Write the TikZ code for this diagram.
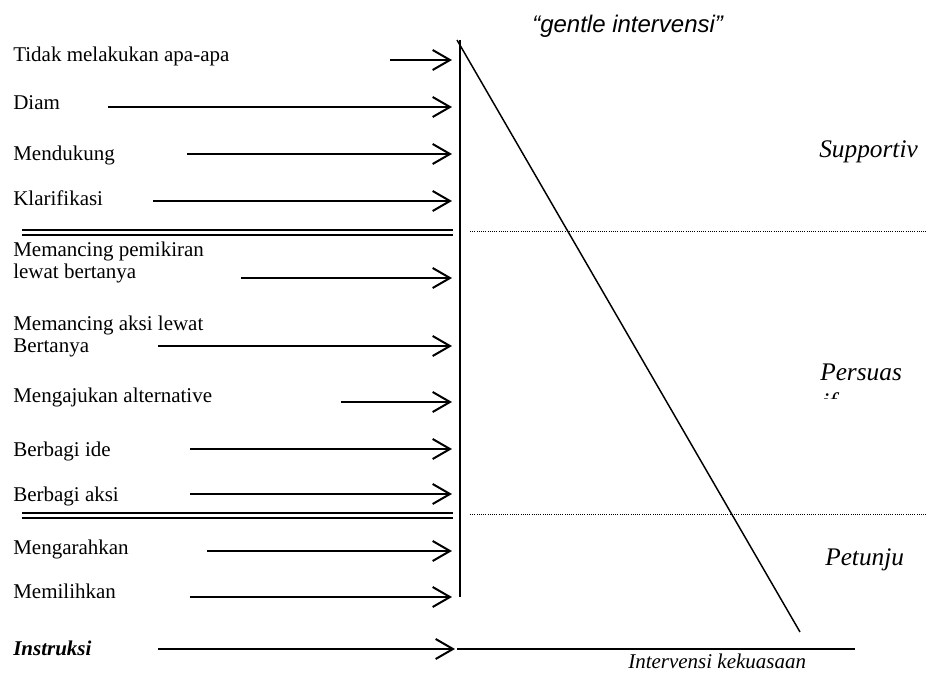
\documentclass[tikz,border=0pt]{standalone}
\usepackage{fontspec}
\setmainfont{Liberation Serif}
\newfontfamily\arialf{Liberation Sans}
\usetikzlibrary{arrows.meta}
\begin{document}
\begin{tikzpicture}[x=0.75pt,y=-0.75pt,
  lbl/.style={anchor=base west, inner sep=0pt, font=\fontsize{15.75}{18}\selectfont},
  side/.style={anchor=base west, inner sep=0pt, font=\fontsize{19}{22}\selectfont\itshape},
  arr/.style={line width=1.5pt, -{Straight Barb[length=13pt,width=15pt]}},
  dbl/.style={line width=1.4pt},
  dots/.style={line width=0.7pt, dash pattern=on 0.75pt off 0.9pt},
  axis/.style={line width=1.1pt}]
\useasboundingbox (0,0) rectangle (926,674);

% title
\node[anchor=base west, inner sep=0pt, font=\arialf\itshape\fontsize{18}{21}\selectfont] (title) at (532,33) {“gentle intervensi”};

% left labels and arrows
\node[lbl] (t1) at (13,62) {Tidak melakukan apa-apa};
\coordinate (s1) at (390,60); \coordinate (e1) at (452,60);
\node[lbl] (t2) at (13,110) {Diam};
\coordinate (s2) at (108,107); \coordinate (e2) at (452,107);
\node[lbl] (t3) at (13,161) {Mendukung};
\coordinate (s3) at (187,154); \coordinate (e3) at (452,154);
\node[lbl] (t4) at (13,205) {Klarifikasi};
\coordinate (s4) at (153,201); \coordinate (e4) at (452,201);
\node[lbl] (t5a) at (13,257) {Memancing pemikiran};
\node[lbl] (t5b) at (13,278) {lewat bertanya};
\coordinate (s5) at (241,278); \coordinate (e5) at (452,278);
\node[lbl] (t6a) at (13,330) {Memancing aksi lewat};
\node[lbl] (t6b) at (13,352) {Bertanya};
\coordinate (s6) at (158,346); \coordinate (e6) at (452,346);
\node[lbl] (t7) at (13,402) {Mengajukan alternative};
\coordinate (s7) at (341,402); \coordinate (e7) at (452,402);
\node[lbl] (t8) at (13,456) {Berbagi ide};
\coordinate (s8) at (190,449); \coordinate (e8) at (452,449);
\node[lbl] (t9) at (13,501) {Berbagi aksi};
\coordinate (s9) at (190,494); \coordinate (e9) at (452,494);
\node[lbl] (t10) at (13,554) {Mengarahkan};
\coordinate (s10) at (207,551); \coordinate (e10) at (452,551);
\node[lbl] (t11) at (13,598) {Memilihkan};
\coordinate (s11) at (190,597); \coordinate (e11) at (452,597);
\node[lbl, font=\fontsize{15.75}{18}\selectfont\bfseries\itshape] (t12) at (13,655) {Instruksi};
\coordinate (s12) at (158,649); \coordinate (e12) at (455,649);

\foreach \i in {1,...,12} { \draw[arr] (s\i) -- (e\i); }

% double separators
\coordinate (d1a) at (22,230); \coordinate (d1b) at (453,230);
\coordinate (d1c) at (22,235); \coordinate (d1d) at (453,235);
\coordinate (d2a) at (22,513); \coordinate (d2b) at (453,513);
\coordinate (d2c) at (22,518); \coordinate (d2d) at (453,518);
\draw[dbl] (d1a) -- (d1b); \draw[dbl] (d1c) -- (d1d);
\draw[dbl] (d2a) -- (d2b); \draw[dbl] (d2c) -- (d2d);

% dotted separators
\coordinate (p1a) at (470,231); \coordinate (p1b) at (926,231);
\coordinate (p2a) at (470,514); \coordinate (p2b) at (926,514);
\draw[dots] (p1a) -- (p1b);
\draw[dots] (p2a) -- (p2b);

% axis lines
\coordinate (vtop) at (460,40); \coordinate (vbot) at (460,597);
\coordinate (dtop) at (457,40); \coordinate (dbot) at (800,632);
\coordinate (hl) at (457,649); \coordinate (hr) at (855,649);
\draw[axis] (vtop) -- (vbot);
\draw[axis] (dtop) -- (dbot);
\draw[axis, line width=1pt] (hl) -- (hr);

% right labels
\node[side] (sup) at (819,158) {Supportiv};
\node[side] (per) at (820,380) {Persuas};
\begin{scope}
  \clip (800,387) rectangle (926,398);
  \node[side] (perif) at (822,410) {if};
\end{scope}
\node[side] (pet) at (825,565) {Petunju};
\node[anchor=base west, inner sep=0pt, font=\fontsize{15.75}{18}\selectfont\itshape] (ik) at (628,668) {Intervensi kekuasaan};
\end{tikzpicture}
\end{document}
